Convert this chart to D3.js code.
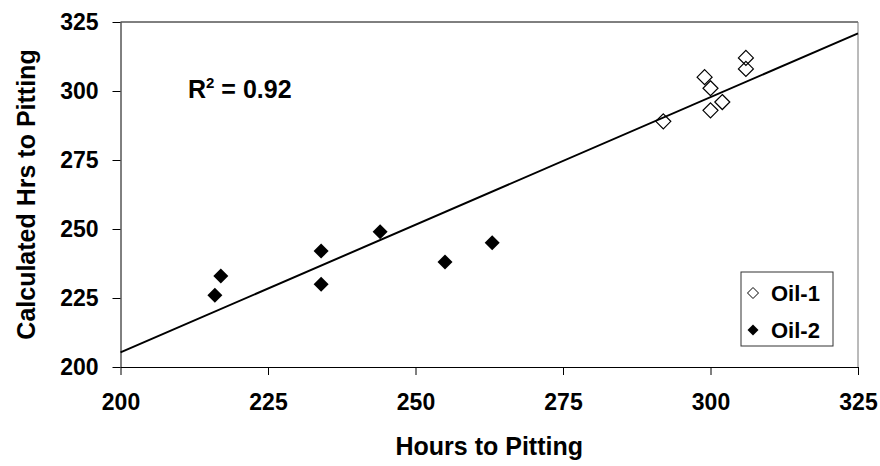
<!DOCTYPE html>
<html>
<head>
<meta charset="utf-8">
<script src="https://cdn.jsdelivr.net/npm/d3@7"></script>
<style>
  body { margin: 0; background: #fff; }
  svg text { font-family: "Liberation Sans", Arial, sans-serif; font-weight: bold; fill: #000; }
</style>
</head>
<body>
<svg id="draw"></svg>
<script>
// values
var oil1X = [292, 299, 300, 300, 302, 306, 306];
var oil1Y = [289, 305, 301, 293, 296, 312, 308];
var oil2X = [216, 217, 234, 234, 244, 255, 263];
var oil2Y = [226, 233, 242, 230, 249, 238, 245];
var trendX = [200, 325];
var trendY = [205.3, 320.9];
var xTicks = [200, 225, 250, 275, 300, 325];
var yTicks = [200, 225, 250, 275, 300, 325];
var seriesNames = ["Oil-1", "Oil-2"];

var W = 880, H = 466;
var margin = { top: 22, right: 22, bottom: 99, left: 120.5 };
var width = W - margin.left - margin.right;
var height = H - margin.top - margin.bottom;

var svg = d3.select("#draw")
  .attr("width", W)
  .attr("height", H);

var g = svg.append("g")
  .attr("transform", "translate(" + margin.left + "," + margin.top + ")");

var xScale = d3.scaleLinear().domain([200, 325]).range([0, width]);
var yScale = d3.scaleLinear().domain([200, 325]).range([height, 0]);

// plot frame (top + right)
g.append("line")
  .attr("x1", 0).attr("x2", width)
  .attr("y1", 0).attr("y2", 0)
  .attr("stroke", "#000");
g.append("line")
  .attr("x1", width).attr("x2", width)
  .attr("y1", 0).attr("y2", height)
  .attr("stroke", "#777");

// axes
var xAxis = g.append("g")
  .attr("transform", "translate(0," + height + ")")
  .call(d3.axisBottom(xScale).tickValues(xTicks).tickSize(8).tickSizeOuter(0).tickPadding(27));
var yAxis = g.append("g")
  .call(d3.axisLeft(yScale).tickValues(yTicks).tickSize(8).tickSizeOuter(0).tickPadding(14));

[xAxis, yAxis].forEach(function(a) {
  a.selectAll("path, line").attr("stroke", "#000");
  a.selectAll("text").style("font-size", "23px");
});
xAxis.selectAll("text").attr("dy", "0.35em");

// trend line
var line = d3.line()
  .x(function(d) { return xScale(d[0]); })
  .y(function(d) { return yScale(d[1]); });
g.append("path")
  .datum(d3.zip(trendX, trendY))
  .attr("d", line)
  .attr("fill", "none")
  .attr("stroke", "#000")
  .attr("stroke-width", 2);

function diamond(r) {
  return "M0," + (-r) + "L" + r + ",0L0," + r + "L" + (-r) + ",0Z";
}

// Oil-1 open diamonds
g.selectAll(".oil1")
  .data(d3.zip(oil1X, oil1Y))
  .enter().append("path")
  .attr("class", "oil1")
  .attr("d", diamond(7.5))
  .attr("transform", function(d) { return "translate(" + xScale(d[0]) + "," + yScale(d[1]) + ")"; })
  .attr("fill", "none")
  .attr("stroke", "#000")
  .attr("stroke-width", 1.2);

// Oil-2 filled diamonds
g.selectAll(".oil2")
  .data(d3.zip(oil2X, oil2Y))
  .enter().append("path")
  .attr("class", "oil2")
  .attr("d", diamond(7.5))
  .attr("transform", function(d) { return "translate(" + xScale(d[0]) + "," + yScale(d[1]) + ")"; })
  .attr("fill", "#000");

// R squared note
var r2 = svg.append("text")
  .attr("x", 188)
  .attr("y", 98)
  .style("font-size", "25px");
r2.append("tspan").text("R");
r2.append("tspan").attr("dy", -10).style("font-size", "15px").text("2");
r2.append("tspan").attr("dy", 10).text(" = 0.92");

// legend
var legend = svg.append("g").attr("transform", "translate(741,272)");
legend.append("rect")
  .attr("x", 0).attr("y", 0)
  .attr("width", 92).attr("height", 74)
  .attr("fill", "#fff")
  .attr("stroke", "#333");
seriesNames.forEach(function(name, i) {
  var row = legend.append("g").attr("transform", "translate(0," + (21 + i * 37) + ")");
  row.append("path")
    .attr("d", diamond(5.5))
    .attr("transform", "translate(12,0)")
    .attr("fill", i == 0 ? "none" : "#000")
    .attr("stroke", "#000")
    .attr("stroke-width", i == 0 ? 1 : 0);
  row.append("text")
    .attr("x", 30)
    .attr("y", 0)
    .attr("dy", "0.35em")
    .style("font-size", "22px")
    .text(name);
});

// axis titles
svg.append("text")
  .attr("x", margin.left + width / 2)
  .attr("y", 455)
  .attr("text-anchor", "middle")
  .style("font-size", "25px")
  .text("Hours to Pitting");

svg.append("text")
  .attr("transform", "translate(35," + (margin.top + height / 2) + ") rotate(-90)")
  .attr("text-anchor", "middle")
  .style("font-size", "25px")
  .text("Calculated Hrs to Pitting");
</script>
</body>
</html>
